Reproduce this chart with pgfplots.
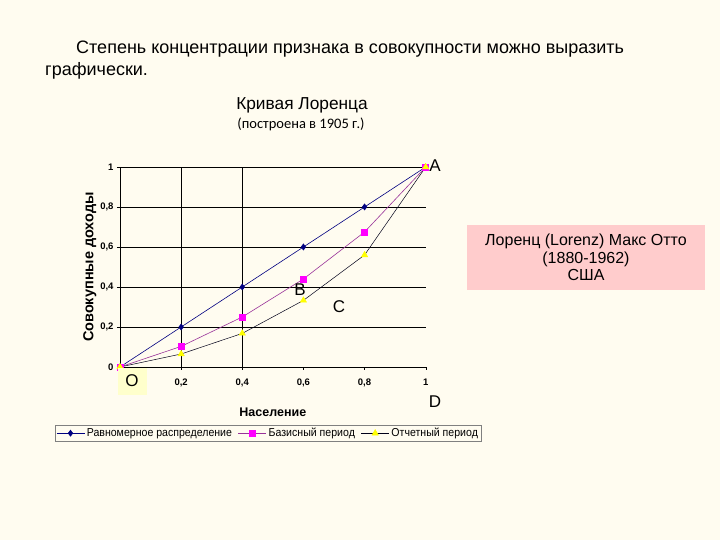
\documentclass[border=0pt]{standalone}
\usepackage{pgfplots}
\pgfplotsset{compat=1.18}
\usepackage{fontspec}
\setmainfont{Liberation Sans}
\newfontfamily\narrow[FakeStretch=0.92]{Liberation Sans}
\newfontfamily\carlito{Carlito}
\definecolor{bg}{HTML}{FFFCF0}
\definecolor{navyc}{HTML}{000080}
\definecolor{magc}{HTML}{FF00FF}
\definecolor{purpc}{HTML}{993399}
\definecolor{yelc}{HTML}{FFFF00}
\definecolor{pinkbox}{HTML}{FFCCCC}
\definecolor{obox}{HTML}{FFFFCC}
\begin{document}
\begin{tikzpicture}
\fill[bg] (0pt,0pt) rectangle (720pt,540pt);
\node[anchor=base west, inner sep=0pt, font=\fontsize{18}{20}\selectfont] at (76pt,486pt) {Степень концентрации признака в совокупности можно выразить};
\node[anchor=base west, inner sep=0pt, font=\fontsize{18}{20}\selectfont] at (45pt,464pt) {графически.};
\node[anchor=base, inner sep=0pt, font=\fontsize{17.3}{20}\selectfont] at (302pt,430pt) {Кривая Лоренца};
\node[anchor=base, inner sep=0pt, font=\carlito\fontsize{14.5}{16}\selectfont] at (301pt,411pt) {(построена в 1905 г.)};
\fill[pinkbox] (467pt,250pt) rectangle (705pt,315pt);
\node[align=center, inner sep=0pt, font=\fontsize{16}{17.5}\selectfont] at (586pt,282.5pt) {Лоренц (Lorenz) Макс Отто\\(1880-1962)\\США};
\begin{axis}[
  at={(120pt,173pt)}, anchor=south west,
  scale only axis, width=305.7pt, height=200pt,
  xmin=0, xmax=1, ymin=0, ymax=1,
  clip=false,
  axis lines*=left,
  axis line style={black, line width=0.8pt},
  xtick={0,0.2,0.4,0.6,0.8,1},
  xticklabels={,{0,2},{0,4},{0,6},{0,8},1},
  ytick={0,0.2,0.4,0.6,0.8,1},
  yticklabels={0,{0,2},{0,4},{0,6},{0,8},1},
  ymajorgrids,
  extra x ticks={0.2,0.4},
  extra x tick labels={},
  extra x tick style={grid=major, major tick length=0pt},
  grid style={black, line width=0.8pt},
  tick style={black},
  tick align=outside,
  major tick length=3pt,
  ticklabel style={font=\bfseries\fontsize{9.5}{11}\selectfont},
  x tick label style={yshift=-5pt},
  xlabel={Население},
  ylabel={Совокупные доходы},
  xlabel style={font=\bfseries\fontsize{12.5}{14}\selectfont, yshift=-11pt},
  ylabel style={font=\bfseries\fontsize{14.5}{16}\selectfont, yshift=-3pt},
  legend style={at={(rel axis cs:-0.2126,-0.29)}, anchor=north west, draw=gray, fill=none,
    font=\narrow\fontsize{11.5}{12}\selectfont, legend columns=3, inner sep=1pt,
    /tikz/every even column/.append style={column sep=4pt}},
  legend cell align=left,
  legend image code/.code={\draw[mark repeat=2,mark phase=2] plot coordinates {(0pt,0pt) (14pt,0pt) (28pt,0pt)};},
]
\addplot[navyc, line width=0.6pt, mark=diamond*, mark size=3pt, mark options={fill=navyc, draw=navyc}]
  coordinates {(0,0) (0.2,0.2) (0.4,0.4) (0.6,0.6) (0.8,0.8) (1,1)};
\addlegendentry{Равномерное распределение}
\addplot[purpc, line width=0.6pt, mark=square*, mark size=3pt, mark options={fill=magc, draw=magc}]
  coordinates {(0,0) (0.2,0.103) (0.4,0.25) (0.6,0.44) (0.8,0.675) (1,1)};
\addlegendentry{Базисный период}
\addplot[black!80!navyc, line width=0.5pt, mark=triangle*, mark size=3.6pt, mark options={fill=yelc, draw=yelc}]
  coordinates {(0,0) (0.2,0.065) (0.4,0.168) (0.6,0.333) (0.8,0.56) (1,1)};
\addlegendentry{Отчетный период}
\end{axis}
\fill[obox] (118pt,145pt) rectangle (147pt,172pt);
\node[font=\fontsize{17}{20}\selectfont, inner sep=0pt] at (132pt,159pt) {O};
\node[font=\fontsize{17}{20}\selectfont, inner sep=0pt] at (435pt,374pt) {A};
\node[font=\fontsize{17}{20}\selectfont, inner sep=0pt] at (300pt,250pt) {B};
\node[font=\fontsize{17}{20}\selectfont, inner sep=0pt] at (339pt,233pt) {C};
\node[font=\fontsize{17}{20}\selectfont, inner sep=0pt] at (435pt,138pt) {D};
\end{tikzpicture}
\end{document}
